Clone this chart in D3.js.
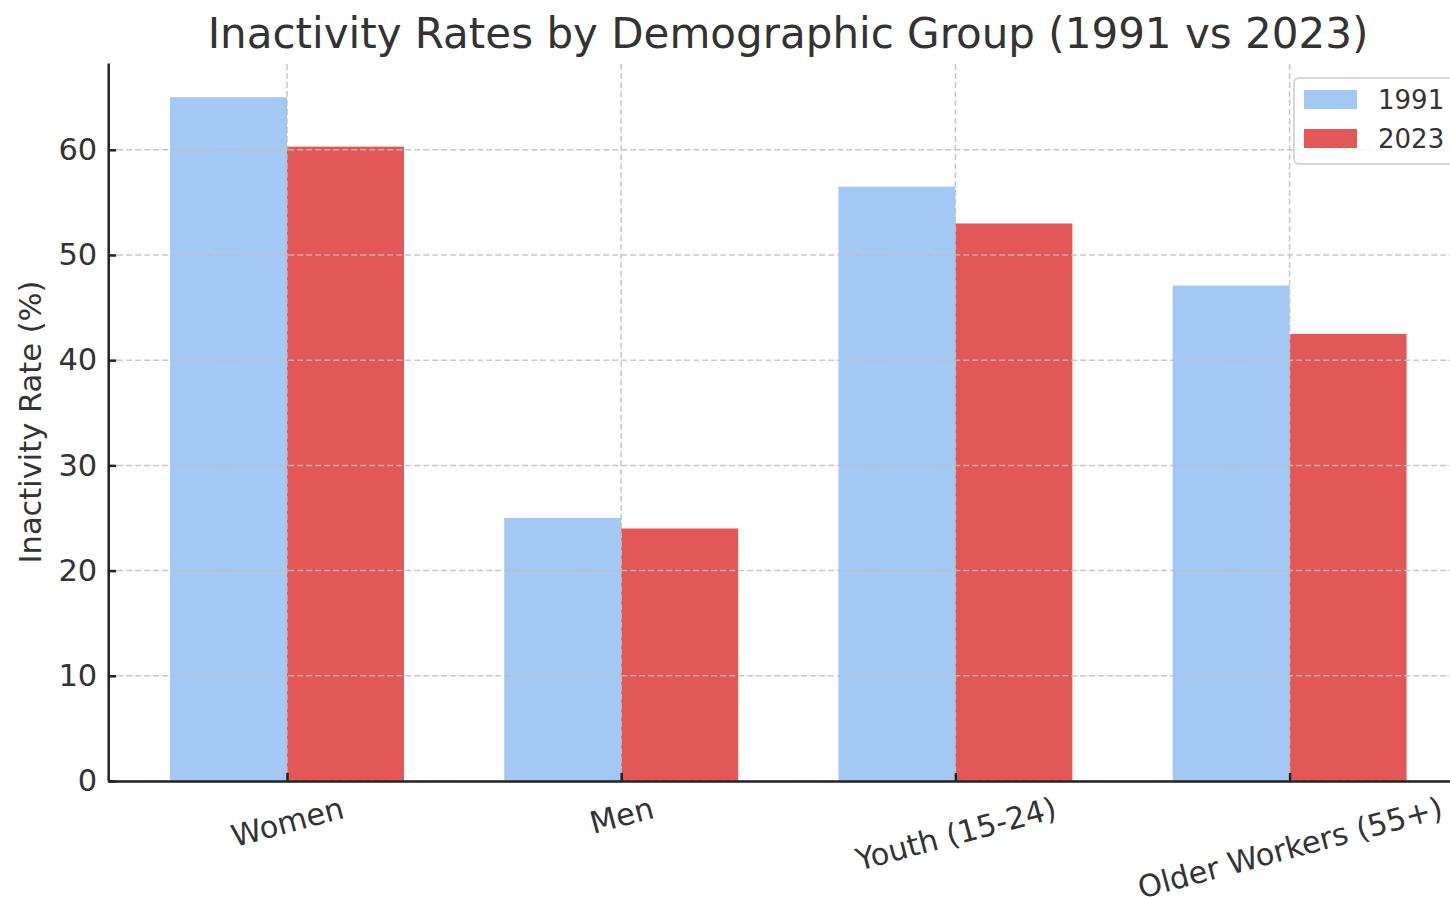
<!DOCTYPE html>
<html>
<head>
<meta charset="utf-8">
<script src="https://cdn.jsdelivr.net/npm/d3@7"></script>
<style>
    body { margin: 0; background: #fff; }
    svg { display: block; overflow: hidden; }
    text { font-family: "DejaVu Sans", sans-serif; fill: #333; }
</style>
</head>
<body>
<script>
// Chart data
let categories = ["Women", "Men", "Youth (15-24)", "Older Workers (55+)"];
let years = ["1991", "2023"];
let rates1991 = [65, 25, 56.5, 47.1];
let rates2023 = [60.3, 24, 53, 42.5];
let yTicks = [0, 10, 20, 30, 40, 50, 60];
let colors = ["#a3c8f3", "#e35757"];

let opts = {
    width: 1450,
    height: 897,
    top: 63,
    bottom: 781,
    unit: 334.2,     // pixels per category step
    firstCenter: 287,
    barWidth: 0.35,
    tickFont: 30.5
};

let svg = d3.select("body").append("svg")
    .attr("width", opts.width)
    .attr("height", opts.height);

// x scale in "category index" units, matplotlib-like margins
let xMin = -opts.barWidth - 0.185;
let xMax = categories.length - 1 + opts.barWidth + 0.185;
let x = d3.scaleLinear()
    .domain([xMin, xMax])
    .range([opts.firstCenter + xMin * opts.unit, opts.firstCenter + xMax * opts.unit]);

let yMax = d3.max(rates1991.concat(rates2023)) * 1.05;
let y = d3.scaleLinear()
    .domain([0, yMax])
    .range([opts.bottom, opts.top]);

let series = [rates1991, rates2023];

// Bars
series.forEach((vals, s) => {
    svg.append("g").selectAll("rect")
        .data(vals)
        .enter()
        .append("rect")
        .attr("x", (d, i) => x(i + (s === 0 ? -opts.barWidth : 0)))
        .attr("width", (d, i) => x(opts.barWidth) - x(0))
        .attr("y", d => y(d))
        .attr("height", d => y(0) - y(d))
        .attr("fill", colors[s]);
});

// Grid drawn on top of the bars
let grid = svg.append("g")
    .attr("stroke", "#bfbfbf")
    .attr("stroke-width", 1.5)
    .attr("stroke-dasharray", "6,3")
    .attr("opacity", 0.85);

grid.selectAll(".hgrid")
    .data(yTicks)
    .enter()
    .append("line")
    .attr("x1", x.range()[0])
    .attr("x2", x.range()[1])
    .attr("y1", d => y(d))
    .attr("y2", d => y(d));

grid.selectAll(".vgrid")
    .data(categories)
    .enter()
    .append("line")
    .attr("x1", (d, i) => x(i))
    .attr("x2", (d, i) => x(i))
    .attr("y1", y.range()[0])
    .attr("y2", y.range()[1]);

// Y axis
let yAxis = d3.axisLeft(y)
    .tickValues(yTicks)
    .tickSizeInner(-8)
    .tickSizeOuter(0)
    .tickPadding(11);

let yG = svg.append("g")
    .attr("transform", `translate(${x.range()[0]},0)`)
    .call(yAxis);

yG.select(".domain").attr("stroke", "#222").attr("stroke-width", 2.5);
yG.selectAll(".tick line").attr("stroke", "#222").attr("stroke-width", 2.5);
yG.selectAll(".tick text")
    .attr("font-size", opts.tickFont)
    .attr("font-family", "DejaVu Sans")
    .attr("fill", "#222");

// X axis
let xAxis = d3.axisBottom(x)
    .tickValues(d3.range(categories.length))
    .tickFormat(i => categories[i])
    .tickSizeInner(-8)
    .tickSizeOuter(0)
    .tickPadding(0);

let xG = svg.append("g")
    .attr("transform", `translate(0,${opts.bottom})`)
    .call(xAxis);

xG.select(".domain").attr("stroke", "#222").attr("stroke-width", 2.5);
xG.selectAll(".tick line").attr("stroke", "#222").attr("stroke-width", 2.5);

// Rotated labels: the rotated box's top sits at a fixed gap below the axis
let angle = 15 * Math.PI / 180;
let lineH = opts.tickFont * 1.16;
xG.selectAll(".tick text")
    .attr("font-size", opts.tickFont)
    .attr("font-family", "DejaVu Sans")
    .attr("fill", "#222")
    .attr("y", 0)
    .attr("dy", "0.35em")
    .attr("text-anchor", "middle")
    .attr("transform", function () {
        let w = this.getComputedTextLength();
        let boxH = w * Math.sin(angle) + lineH * Math.cos(angle);
        return `translate(0,${9 + boxH / 2}) rotate(-15)`;
    });

// Title
svg.append("text")
    .attr("x", 788)
    .attr("y", 48)
    .attr("text-anchor", "middle")
    .attr("font-size", 42)
    .text("Inactivity Rates by Demographic Group (1991 vs 2023)");

// Y label
svg.append("text")
    .attr("transform", `translate(41,${(opts.top + opts.bottom) / 2}) rotate(-90)`)
    .attr("text-anchor", "middle")
    .attr("font-size", opts.tickFont)
    .text("Inactivity Rate (%)");

// Legend
let legend = svg.append("g")
    .attr("transform", "translate(1294,78)");

legend.append("rect")
    .attr("width", 168)
    .attr("height", 86)
    .attr("rx", 5)
    .attr("fill", "#fff")
    .attr("fill-opacity", 0.8)
    .attr("stroke", "#d6d6d6")
    .attr("stroke-width", 2);

years.forEach((yr, i) => {
    let row = legend.append("g")
        .attr("transform", `translate(10,${12 + i * 39})`);
    row.append("rect")
        .attr("width", 53)
        .attr("height", 19)
        .attr("fill", colors[i]);
    row.append("text")
        .attr("x", 74)
        .attr("y", 19)
        .attr("font-size", 26)
        .text(yr);
});
</script>
</body>
</html>
